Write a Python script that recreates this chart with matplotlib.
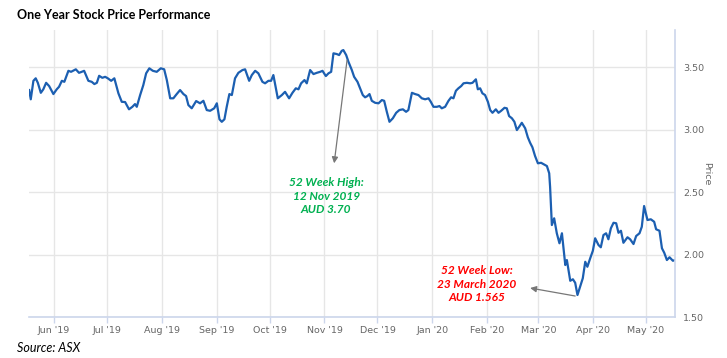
# One year stock price chart (ASX), highcharts look
import numpy as np
import pandas as pd
import matplotlib
matplotlib.use("Agg")
import matplotlib.pyplot as plt
import matplotlib.dates as mdates

# data: day offset from 17 May 2019, closing price (AUD)
start = pd.Timestamp("2019-05-17")
days = [0.9, 1.8, 3.3, 4.6, 5.8, 7.5, 8.9, 10.5, 12.2, 14.6, 16.5, 17.8, 19.4, 20.8,
        23.1, 24.6, 27.3, 29.1, 30.3, 32.0, 34.4, 36.3, 37.8, 39.2, 40.5, 42.3, 43.9,
        45.4, 47.3, 49.1, 51.4, 53.3, 55.2, 57.4, 59.3, 60.8, 61.8, 63.7, 65.5, 67.1,
        68.9, 70.9, 73.1, 75.4, 77.3, 78.8, 80.7, 82.5, 84.4, 86.3, 88.2, 89.7, 91.0,
        92.9, 95.4, 97.6, 99.5, 101.4, 103.3, 105.6, 107.1, 108.6, 109.9, 111.4, 112.7,
        114.2, 115.6, 117.4, 119.3, 121.6, 123.1, 125.4, 126.9, 128.8, 130.6, 132.9,
        134.4, 136.3, 137.8, 139.1, 141.6, 143.9, 145.7, 148.0, 149.9, 151.8, 153.3,
        154.8, 156.7, 158.0, 159.9, 161.8, 163.7, 165.6, 166.9, 168.8, 170.3, 171.8,
        173.1, 175.0, 176.3, 177.8, 178.7, 180.3, 181.6, 183.5, 184.8, 186.7, 188.2,
        189.7, 191.0, 192.3, 193.5, 194.8, 196.7, 198.6, 200.5, 201.8, 203.3, 204.8,
        206.7, 208.6, 210.4, 212.4, 214.2, 215.5, 217.5, 219.3, 221.2, 223.1, 225.0,
        226.9, 228.2, 229.7, 231.6, 233.1, 234.4, 236.3, 238.2, 239.7, 241.0, 242.4,
        243.8, 245.4, 246.7, 248.6, 250.5, 251.8, 253.7, 254.8, 256.1, 257.4, 258.9,
        260.5, 261.8, 263.1, 265.0, 266.5, 268.0, 269.9, 271.2, 272.5, 274.1, 275.5,
        276.9, 278.2, 279.7, 281.6, 283.1, 284.4, 285.7, 287.2, 288.8, 290.6, 291.9,
        293.9, 295.2, 295.7, 296.7, 298.0, 299.5, 301.0, 302.4, 304.3, 305.2, 307.1,
        308.6, 309.9, 311.2, 312.7, 314.2, 315.6, 316.8, 318.4, 319.9, 321.2, 323.1,
        324.4, 325.9, 327.4, 328.7, 330.1, 331.6, 333.1, 334.4, 335.8, 337.2, 339.5,
        341.0, 342.9, 344.4, 346.3, 347.6, 348.9, 350.8, 352.7, 354.6, 355.7, 357.6,
        359.0, 360.3, 361.8, 363.3, 365.2, 366.4]
price = [3.316, 3.242, 3.390, 3.410, 3.374, 3.294, 3.322, 3.374, 3.348, 3.284, 3.322,
         3.342, 3.390, 3.382, 3.470, 3.462, 3.482, 3.454, 3.460, 3.470, 3.390, 3.382,
         3.364, 3.374, 3.430, 3.414, 3.422, 3.410, 3.390, 3.410, 3.290, 3.222, 3.220,
         3.162, 3.182, 3.204, 3.182, 3.276, 3.356, 3.450, 3.490, 3.470, 3.462, 3.490,
         3.482, 3.396, 3.250, 3.250, 3.284, 3.316, 3.284, 3.268, 3.196, 3.170, 3.228,
         3.210, 3.230, 3.156, 3.150, 3.170, 3.210, 3.082, 3.062, 3.082, 3.182, 3.284,
         3.276, 3.410, 3.454, 3.476, 3.482, 3.390, 3.436, 3.470, 3.450, 3.382, 3.370,
         3.390, 3.390, 3.436, 3.250, 3.276, 3.302, 3.250, 3.294, 3.330, 3.322, 3.370,
         3.396, 3.370, 3.476, 3.444, 3.454, 3.462, 3.470, 3.428, 3.450, 3.462, 3.610,
         3.604, 3.596, 3.630, 3.636, 3.596, 3.542, 3.476, 3.422, 3.382, 3.330, 3.276,
         3.258, 3.268, 3.284, 3.230, 3.214, 3.210, 3.236, 3.230, 3.142, 3.062, 3.090,
         3.134, 3.156, 3.162, 3.142, 3.156, 3.294, 3.284, 3.276, 3.250, 3.242, 3.250,
         3.222, 3.182, 3.182, 3.188, 3.170, 3.182, 3.230, 3.258, 3.250, 3.310, 3.330,
         3.348, 3.370, 3.374, 3.370, 3.374, 3.402, 3.322, 3.330, 3.290, 3.276, 3.222,
         3.156, 3.134, 3.162, 3.134, 3.150, 3.174, 3.170, 3.108, 3.090, 3.062, 2.996,
         3.022, 3.054, 3.010, 2.938, 2.894, 2.858, 2.788, 2.730, 2.734, 2.724, 2.708,
         2.650, 2.542, 2.236, 2.290, 2.170, 2.090, 2.170, 1.916, 1.956, 1.790, 1.802,
         1.774, 1.676, 1.742, 1.810, 1.942, 1.902, 1.970, 2.030, 2.130, 2.076, 2.058,
         2.156, 2.170, 2.122, 2.210, 2.254, 2.250, 2.174, 2.190, 2.094, 2.138, 2.122,
         2.084, 2.148, 2.170, 2.222, 2.388, 2.276, 2.282, 2.262, 2.202, 2.190, 2.050,
         2.014, 1.956, 1.978, 1.950, 1.956]
y_ticks = [1.50, 2.00, 2.50, 3.00, 3.50]

dates = start + pd.to_timedelta(days, unit="D")

def day(d):
    return start + pd.Timedelta(days=d)

grid_c = "#e6e6e6"
axis_c = "#ccd6eb"
label_c = "#666666"

fig = plt.figure(figsize=(7.27, 3.58), dpi=100)
ax = fig.add_axes([0.040, 0.1145, 0.8885, 0.8015])

ax.plot(dates, price, color="#1c5fb1", linewidth=1.6, solid_joinstyle="round")

ax.set_xlim(day(0.85), day(366.4))
ax.set_ylim(1.5, 3.796)

# axes styling
for s in ["top", "left"]:
    ax.spines[s].set_visible(False)
ax.spines["bottom"].set_color(axis_c)
ax.spines["right"].set_color(axis_c)
ax.spines["bottom"].set_linewidth(1.2)
ax.spines["right"].set_linewidth(1.2)

ax.xaxis.set_major_locator(mdates.MonthLocator())
ax.xaxis.set_major_formatter(mdates.DateFormatter("%b '%y"))
ax.tick_params(axis="x", colors=axis_c, length=4, width=1, labelcolor=label_c,
               labelsize=6.8, pad=2.5)

ax.yaxis.tick_right()
ax.set_yticks(y_ticks)
ax.yaxis.set_major_formatter(plt.FormatStrFormatter("%.2f"))
ax.tick_params(axis="y", length=0, labelcolor=label_c, labelsize=6.8, pad=6)
ax.yaxis.set_label_position("right")
ax.set_ylabel("Price", color=label_c, fontsize=6.8, rotation=270, labelpad=5)

ax.grid(True, color=grid_c, linewidth=1)
ax.set_axisbelow(True)

# annotations
ax.annotate("", xy=(day(173.5), 2.73), xycoords="data",
            xytext=(day(180.8), 3.556), textcoords="data",
            arrowprops=dict(arrowstyle="-|>", color="#777777", lw=0.9,
                            mutation_scale=9, shrinkA=0, shrinkB=0))
ax.text(day(169), 2.468, "52 Week High:\n12 Nov 2019\nAUD 3.70",
        color="#00b050", fontsize=8.6, fontweight="bold", fontstyle="italic",
        family="Lato", ha="center", va="center", linespacing=1.3)

ax.annotate("", xy=(day(284.4), 1.732), xycoords="data",
            xytext=(day(309.9), 1.668), textcoords="data",
            arrowprops=dict(arrowstyle="-|>", color="#777777", lw=0.9,
                            mutation_scale=9, shrinkA=0, shrinkB=0))
ax.text(day(254.4), 1.764, "52 Week Low:\n23 March 2020\nAUD 1.565",
        color="#ff0000", fontsize=8.6, fontweight="bold", fontstyle="italic",
        family="Lato", ha="center", va="center", linespacing=1.3)

fig.text(0.023, 0.958, "One Year Stock Price Performance", fontsize=9,
         fontweight="bold", family="Lato", va="center", ha="left")
fig.text(0.023, 0.027, "Source: ASX", fontsize=9, fontstyle="italic",
         family="Lato", va="center", ha="left")

fig.savefig("out.png", dpi=100)
